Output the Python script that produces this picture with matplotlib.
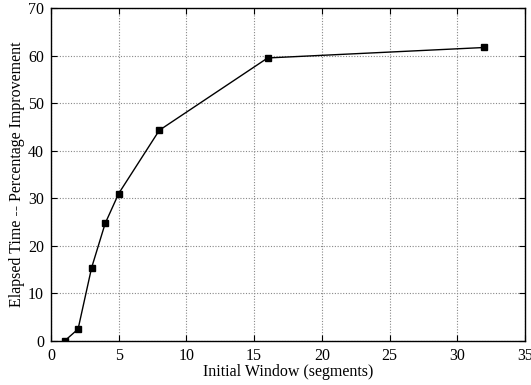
import matplotlib
matplotlib.use("Agg")
import matplotlib.pyplot as plt

# Initial window size vs. percentage improvement in elapsed time
window = [1, 2, 3, 4, 5, 8, 16, 32]
improvement = [0.0, 2.5, 15.4, 24.7, 31.0, 44.3, 59.5, 61.7]

plt.rcParams["font.family"] = ["Liberation Serif", "DejaVu Serif"]

fig = plt.figure(figsize=(5.31, 3.85), dpi=100)
ax = fig.add_axes([0.096, 0.1143, 0.8927, 0.8649])

ax.plot(window, improvement, color="black", linewidth=1.0,
        marker="s", markersize=4, markerfacecolor="black", markeredgecolor="black")

ax.set_xlim(0, 35)
ax.set_ylim(0, 70)
ax.set_xticks(range(0, 36, 5))
ax.set_yticks(range(0, 71, 10))
ax.grid(True, color="#888888", linestyle=(0, (1, 1.5)), linewidth=0.8)
ax.tick_params(direction="in", top=True, right=True, length=4, labelsize=11.5, pad=5)
for spine in ax.spines.values():
    spine.set_linewidth(1.0)

ax.set_xlabel("Initial Window (segments)", fontsize=11.5, labelpad=0)
ax.set_ylabel("Elapsed Time -- Percentage Improvement", fontsize=11.5, labelpad=2)

fig.savefig("out.png", dpi=100)
